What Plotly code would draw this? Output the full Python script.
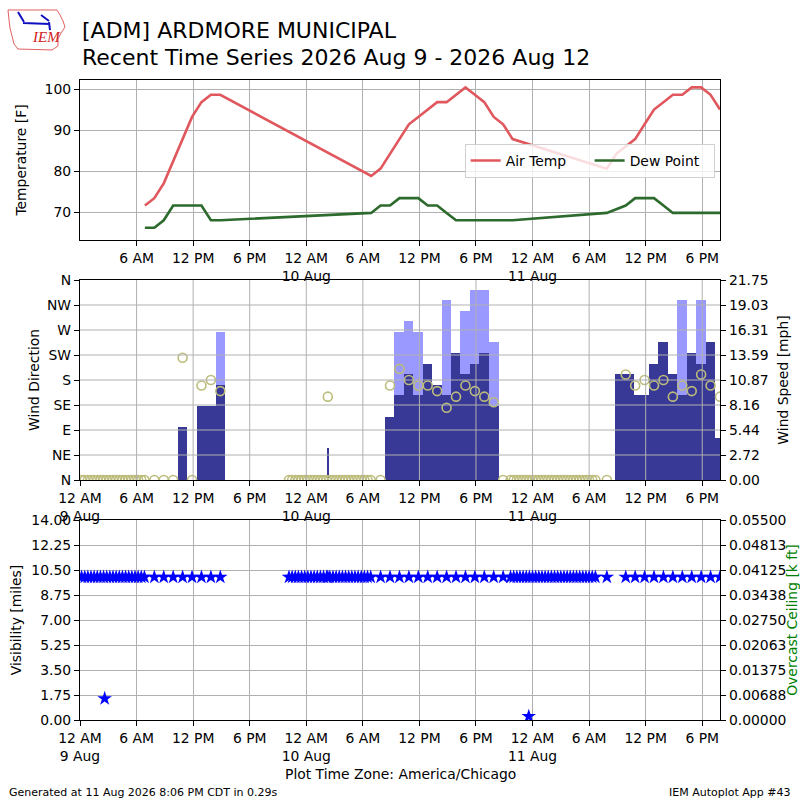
import pandas as pd
import plotly.graph_objects as go

START = pd.Timestamp("2026-08-09 00:00")
END = pd.Timestamp("2026-08-11 19:53")
KT2MPH = 1.15078

# hourly temperature / dew point [F]
temp_blocks = [("2026-08-09 06:53", "2026-08-09 14:53"),
               ("2026-08-10 06:53", "2026-08-10 21:53"),
               ("2026-08-11 07:53", "2026-08-11 19:53")]
tmpf = [71.6, 73.4, 77.0, 82.4, 87.8, 93.2, 96.8, 98.6, 98.6,
        78.8, 80.6, 84.2, 87.8, 91.4, 93.2, 95.0, 96.8, 96.8, 98.6, 100.4,
        98.6, 96.8, 93.2, 91.4, 87.8,
        80.6, 84.2, 86.0, 87.8, 91.4, 95.0, 96.8, 98.6, 98.6, 100.4, 100.4,
        98.6, 95.0]
dwpf = [66.2, 66.2, 68.0, 71.6, 71.6, 71.6, 71.6, 68.0, 68.0,
        69.8, 71.6, 71.6, 73.4, 73.4, 73.4, 71.6, 71.6, 69.8, 68.0, 68.0,
        68.0, 68.0, 68.0, 68.0, 68.0,
        69.8, 70.7, 71.6, 73.4, 73.4, 73.4, 71.6, 69.8, 69.8, 69.8, 69.8,
        69.8, 69.8]

# frequent calm obs (every 20 min), wind direction 0, visibility 10
calm_blocks = [("2026-08-09 00:10", "2026-08-09 06:50"),
               ("2026-08-09 22:10", "2026-08-10 06:50"),
               ("2026-08-10 21:40", "2026-08-11 06:40")]

# routine / special obs with wind direction [deg]
obs_times = ["2026-08-09 07:53", "2026-08-09 08:53", "2026-08-09 09:53",
             "2026-08-09 10:53", "2026-08-09 11:53", "2026-08-09 12:53",
             "2026-08-09 13:53", "2026-08-09 14:53",
             "2026-08-10 02:17",
             "2026-08-10 07:53", "2026-08-10 08:53", "2026-08-10 09:53",
             "2026-08-10 10:53", "2026-08-10 11:53", "2026-08-10 12:53",
             "2026-08-10 13:53", "2026-08-10 14:53", "2026-08-10 15:53",
             "2026-08-10 16:53", "2026-08-10 17:53", "2026-08-10 18:53",
             "2026-08-10 19:53", "2026-08-10 20:53",
             "2026-08-11 07:53", "2026-08-11 09:53", "2026-08-11 10:53",
             "2026-08-11 11:53", "2026-08-11 12:53", "2026-08-11 13:53",
             "2026-08-11 14:53", "2026-08-11 15:53", "2026-08-11 16:53",
             "2026-08-11 17:53", "2026-08-11 18:53", "2026-08-11 19:53"]
obs_drct = [0, 0, 0, 220, 0, 170, 180, 160,
            150,
            0, 170, 200, 180, 170, 170, 160, 130, 150, 170, 160, 150, 140, 0,
            0, 190, 170, 180, 170, 180, 150, 170, 160, 190, 170, 150]
obs_vsby = [10.0] * len(obs_times)

# low visibility reports [miles]
low_vis_times = ["2026-08-09 02:37", "2026-08-10 23:36"]
low_vis = [1.5, 0.25]

# sustained wind bars, hours since 9 Aug 00:00, speed in knots
sknt_start = [10.39, 12.37, 13.38, 14.39, 26.15, 32.34, 33.35, 34.35, 35.35,
              36.35, 37.37, 38.35, 39.35, 40.35, 41.35, 42.35, 43.37, 56.78,
              58.80, 60.32, 61.35, 62.34, 63.35, 64.35, 65.33, 66.35, 67.33]
sknt_end = [11.38, 13.38, 14.39, 15.34, 26.44, 33.35, 34.35, 35.35, 36.35,
            37.37, 38.35, 39.35, 40.35, 41.35, 42.35, 43.37, 44.40, 58.80,
            60.32, 61.35, 62.34, 63.35, 64.35, 65.33, 66.35, 67.33, 67.95]
sknt = [5, 7, 7, 9, 3, 6, 8, 10, 8, 11, 9, 8, 12, 10, 11, 12, 7,
        10, 8, 11, 13, 10, 8, 12, 11, 13, 4]

# gust bars
gust_start = [14.39, 33.35, 34.35, 35.35, 38.35, 40.35, 41.35, 42.35, 43.37,
              63.35, 65.33]
gust_end = [15.34, 34.35, 35.35, 36.35, 39.35, 41.35, 42.35, 43.37, 44.40,
            64.35, 66.35]
gust = [14, 14, 15, 14, 17, 16, 18, 18, 13, 17, 17]

dir_ticks = [0, 45, 90, 135, 180, 225, 270, 315, 360]
dir_labels = ["N", "NE", "E", "SE", "S", "SW", "W", "NW", "N"]
vis_ticks = [0, 1.75, 3.5, 5.25, 7.0, 8.75, 10.5, 12.25, 14.0]
ceil_ticks = [0, 0.006875, 0.01375, 0.020625, 0.0275, 0.034375, 0.04125,
              0.048125, 0.055]

FONT = "DejaVu Sans"
FS = 13.9
GRID = "#b0b0b0"


def hours_to_time(hours):
    return [START + pd.Timedelta(hours=h) for h in hours]


def bar_widths(starts, ends):
    return [(e - s) * 3600 * 1000 for s, e in zip(starts, ends)]


temp_times = []
for a, b in temp_blocks:
    temp_times += list(pd.date_range(a, b, freq="h"))

calm_times = []
for a, b in calm_blocks:
    calm_times += list(pd.date_range(a, b, freq="20min"))

wind_times = calm_times + [pd.Timestamp(t) for t in obs_times]
wind_drct = [0] * len(calm_times) + obs_drct
vis_times = wind_times + [pd.Timestamp(t) for t in low_vis_times]
vis_vals = [10.0] * len(calm_times) + obs_vsby + low_vis

tick_times = list(pd.date_range(START, "2026-08-11 18:00", freq="6h"))


def tick_label(t):
    h = t.hour % 12 or 12
    s = f"{h} {'AM' if t.hour < 12 else 'PM'}"
    if t.hour == 0:
        s += f"<br>{t.day} Aug"
    return s


tick_text = [tick_label(t) for t in tick_times]

speed_max = max(gust) * KT2MPH * 1.05
speed_ticks = [speed_max * i / 8 for i in range(9)]

fig = go.Figure()

# top: temperature
fig.add_trace(go.Scatter(
    x=temp_times, y=tmpf, mode="lines", name="Air Temp",
    line=dict(color="#e0585e", width=2.6), xaxis="x", yaxis="y",
))
fig.add_trace(go.Scatter(
    x=temp_times, y=dwpf, mode="lines", name="Dew Point",
    line=dict(color="#2d6a2d", width=2.6), xaxis="x", yaxis="y",
))

# middle: wind speed / gust bars, direction circles
fig.add_trace(go.Bar(
    x=hours_to_time(gust_start), y=[g * KT2MPH for g in gust],
    width=bar_widths(gust_start, gust_end), offset=0,
    marker=dict(color="#9999ff", line=dict(width=0)),
    xaxis="x2", yaxis="y2", showlegend=False,
))
fig.add_trace(go.Bar(
    x=hours_to_time(sknt_start), y=[s * KT2MPH for s in sknt],
    width=bar_widths(sknt_start, sknt_end), offset=0,
    marker=dict(color="#383896", line=dict(width=0)),
    xaxis="x2", yaxis="y2", showlegend=False,
))
fig.add_trace(go.Scatter(
    x=wind_times, y=wind_drct, mode="markers",
    marker=dict(symbol="circle-open", size=9, color="#bcbc7c",
                line=dict(width=1.6)),
    xaxis="x2", yaxis="y3", showlegend=False,
))

# bottom: visibility
fig.add_trace(go.Scatter(
    x=vis_times, y=vis_vals, mode="markers",
    marker=dict(symbol="star", size=11, color="#0000ff"),
    xaxis="x3", yaxis="y4", showlegend=False,
))
fig.add_trace(go.Scatter(x=[], y=[], xaxis="x3", yaxis="y5", showlegend=False))

tick_font = dict(family=FONT, size=FS, color="black")
title_font = dict(family=FONT, size=FS, color="black")

xbase = dict(
    type="date", range=[START, END], showline=True, linecolor="black",
    linewidth=1.2, mirror=True, ticks="outside", ticklen=5, tickcolor="black",
    tickfont=tick_font, showgrid=True, gridcolor=GRID, gridwidth=1,
    zeroline=False, automargin=False,
)
ybase = dict(
    showline=True, linecolor="black", linewidth=1.2, ticks="outside",
    ticklen=5, tickcolor="black", tickfont=tick_font, zeroline=False,
    automargin=False,
)

fig.update_layout(
    width=800, height=800,
    margin=dict(l=80, r=80, t=80, b=80),
    paper_bgcolor="white", plot_bgcolor="white",
    font=dict(family=FONT, size=FS, color="black"),
    barmode="overlay", bargap=0,
    xaxis=dict(xbase, anchor="y", tickvals=tick_times[1:], ticktext=tick_text[1:]),
    yaxis=dict(ybase, domain=[0.75, 1.0], anchor="x", range=[63.2, 102.2],
               tickvals=[70, 80, 90, 100], mirror=True, showgrid=True,
               gridcolor=GRID, gridwidth=1,
               title=dict(text="Temperature [F]", font=title_font, standoff=14)),
    xaxis2=dict(xbase, anchor="y2", tickvals=tick_times, ticktext=tick_text,
                showgrid=False),
    yaxis2=dict(ybase, domain=[0.375, 0.6875], anchor="x2", side="right",
                range=[0, speed_max], tickvals=speed_ticks,
                ticktext=[f"{v:.2f}" for v in speed_ticks], showgrid=False,
                title=dict(text="Wind Speed [mph]", font=title_font, standoff=10)),
    yaxis3=dict(ybase, overlaying="y2", anchor="x2", side="left",
                range=[0, 360], tickvals=dir_ticks, ticktext=dir_labels,
                showgrid=False,
                title=dict(text="Wind Direction", font=title_font, standoff=4)),
    xaxis3=dict(xbase, anchor="y4", tickvals=tick_times, ticktext=tick_text),
    yaxis4=dict(ybase, domain=[0.0, 0.3125], anchor="x3", range=[0, 14],
                tickvals=vis_ticks, ticktext=[f"{v:.2f}" for v in vis_ticks],
                showgrid=True, gridcolor=GRID, gridwidth=1,
                title=dict(text="Visibility [miles]", font=title_font, standoff=6)),
    yaxis5=dict(ybase, overlaying="y4", anchor="x3", side="right",
                range=[0, 0.055], tickvals=ceil_ticks,
                ticktext=[f"{v:.5f}" for v in ceil_ticks], showgrid=False,
                title=dict(text="Overcast Ceiling [k ft]",
                           font=dict(family=FONT, size=FS, color="green"),
                           standoff=6)),
    legend=dict(orientation="h", x=0.601, y=0.9, xanchor="left",
                yanchor="top", bgcolor="rgba(255,255,255,0.8)",
                bordercolor="#d0d0d0", borderwidth=1, entrywidth=79,
                font=dict(family=FONT, size=FS)),
)

# grid drawn above the wind bars, like the original
shapes = []
for d in dir_ticks[1:-1]:
    shapes.append(dict(type="line", xref="x2 domain", yref="y3", x0=0, x1=1,
                       y0=d, y1=d, line=dict(color=GRID, width=1),
                       layer="above"))
for t in tick_times[1:]:
    shapes.append(dict(type="line", xref="x2", yref="y2 domain", x0=t, x1=t,
                       y0=0, y1=1, line=dict(color=GRID, width=1),
                       layer="above"))


def px(x):
    return (x - 80) / 640


def py(y):
    return (720 - y) / 640


# IEM logo (rough outline of Iowa)
iowa = [(8, 10), (57, 10), (60, 15), (63, 21), (65, 27), (61, 33), (58, 39),
        (58, 46), (52, 50), (18, 49), (14, 44), (12, 36), (10, 28), (9, 20)]
path = "M " + " L ".join(f"{px(a):.4f},{py(b):.4f}" for a, b in iowa) + " Z"
shapes.append(dict(type="path", xref="paper", yref="paper", path=path,
                   line=dict(color="#e06060", width=1)))
shapes.append(dict(type="path", xref="paper", yref="paper",
                   path=(f"M {px(23):.4f},{py(23):.4f} L {px(50):.4f},{py(24):.4f} "
                         f"M {px(18):.4f},{py(12):.4f} L {px(24):.4f},{py(22):.4f} "
                         f"M {px(41):.4f},{py(15):.4f} L {px(49):.4f},{py(21):.4f} "
                         f"M {px(49):.4f},{py(22):.4f} L {px(50):.4f},{py(30):.4f}"),
                   line=dict(color="#1010c0", width=2)))
fig.update_layout(shapes=shapes)

annotations = [
    dict(text="<i>IEM</i>", x=px(30), y=py(37), font=dict(family="Liberation Serif",
         size=15, color="#d02020"), showarrow=False),
    dict(text="[ADM] ARDMORE MUNICIPAL", x=0, y=py(31), xanchor="left",
         font=dict(family=FONT, size=22), showarrow=False),
    dict(text="Recent Time Series 2026 Aug 9 - 2026 Aug 12", x=0, y=py(57),
         xanchor="left", font=dict(family=FONT, size=22), showarrow=False),
    dict(text="Plot Time Zone: America/Chicago", x=0.5, y=py(774),
         font=dict(family=FONT, size=FS), showarrow=False),
    dict(text="Generated at 11 Aug 2026 8:06 PM CDT in 0.29s", x=px(7),
         y=py(792), xanchor="left", font=dict(family=FONT, size=11),
         showarrow=False),
    dict(text="IEM Autoplot App #43", x=px(793), y=py(792), xanchor="right",
         font=dict(family=FONT, size=11), showarrow=False),
]
for a in annotations:
    a.setdefault("xref", "paper")
    a.setdefault("yref", "paper")
    a.setdefault("yanchor", "middle")
fig.update_layout(annotations=annotations)

fig.write_html("out.html", config={"displayModeBar": False},
               post_script="document.body.style.margin='0px';")
